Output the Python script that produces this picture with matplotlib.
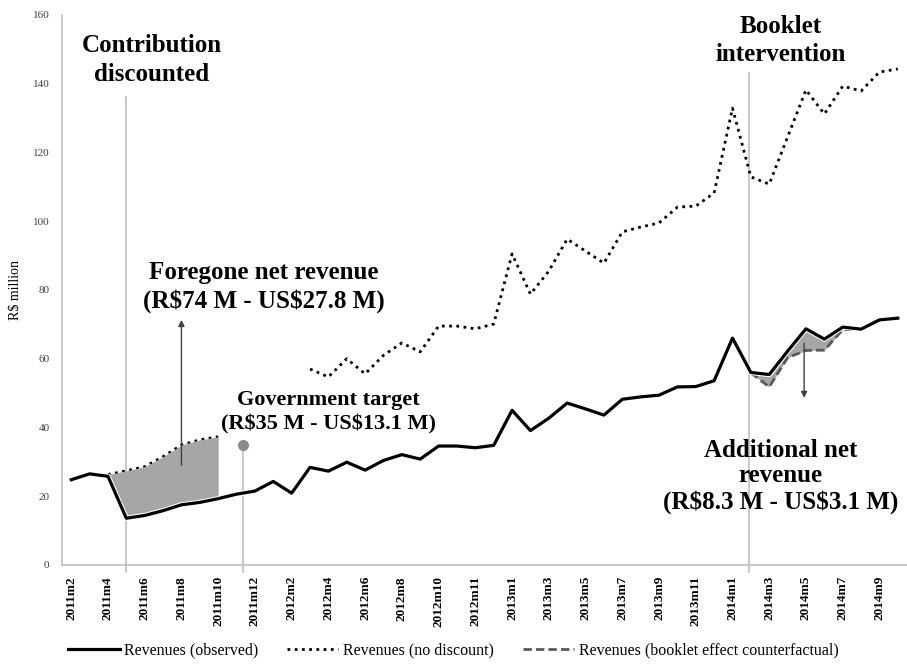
import numpy as np
import matplotlib
matplotlib.use("Agg")
from matplotlib import pyplot as plt
from matplotlib import patheffects as pe

plt.rcParams["font.family"] = ["Liberation Serif", "DejaVu Serif"]
plt.rcParams["text.parse_math"] = False

months = ["2011m2", "2011m3", "2011m4", "2011m5", "2011m6", "2011m7", "2011m8",
          "2011m9", "2011m10", "2011m11", "2011m12",
          "2012m1", "2012m2", "2012m3", "2012m4", "2012m5", "2012m6", "2012m7",
          "2012m8", "2012m9", "2012m10", "2012m11", "2012m11", "2012m12",
          "2013m1", "2013m2", "2013m3", "2013m4", "2013m5", "2013m6", "2013m7",
          "2013m8", "2013m9", "2013m10", "2013m11", "2013m12",
          "2014m1", "2014m2", "2014m3", "2014m4", "2014m5", "2014m6", "2014m7",
          "2014m8", "2014m9", "2014m10"]

# R$ million
observed = [24.8, 26.5, 25.8, 13.6, 14.4, 15.8, 17.5, 18.2, 19.3, 20.6, 21.5,
            24.3, 20.9, 28.4, 27.3, 29.9, 27.6, 30.4, 32.1, 30.8, 34.6, 34.6,
            34.1, 34.8, 45.0, 39.1, 42.7, 47.1, 45.4, 43.6, 48.2, 48.9, 49.4,
            51.8, 51.9, 53.6, 66.0, 56.0, 55.4, 62.2, 68.7, 65.7, 69.2, 68.6,
            71.3, 71.8]

nan = np.nan
no_discount = [nan, nan, 26.3, 27.4, 28.6, 31.5, 34.9, 36.4, 37.3, nan, nan,
               nan, nan, 57.0, 54.7, 60.0, 55.6, 61.0, 64.6, 62.0, 69.5, 69.5,
               68.7, 70.1, 90.5, 78.8, 85.5, 94.8, 91.3, 87.8, 96.9, 98.3, 99.5,
               104.1, 104.4, 108.2, 132.9, 112.9, 110.8, 124.5, 138.2, 131.2,
               139.3, 137.9, 143.4, 144.3]

booklet_cf = [nan] * 37 + [55.9, 51.8, 60.3, 62.4, 62.5, 68.4, 68.6, nan, nan]

discount_start = 2.98
gov_target_pos = 9.35
gov_target = 35
booklet_start = 36.9

x = np.arange(len(months))
obs = np.array(observed)
nod = np.array(no_discount)
cf = np.array(booklet_cf)

fig = plt.figure(figsize=(9.07, 6.69), dpi=100)
ax = fig.add_axes([0.0684, 0.1555, 0.9316, 0.8221])

light = "#bfbfbf"

# event markers
ax.plot([discount_start, discount_start], [-2, 136], color=light, lw=1.2,
        clip_on=False, zorder=1)
ax.plot([gov_target_pos, gov_target_pos], [-2, gov_target], color=light, lw=1.2,
        clip_on=False, zorder=1)
ax.plot([booklet_start, booklet_start], [-2, 143], color=light, lw=1.2,
        clip_on=False, zorder=1)
ax.plot([gov_target_pos], [gov_target], "o", color="#8c8c8c", ms=7, zorder=5)

# shaded gaps
lo = slice(2, 9)
ax.fill_between(x[lo], obs[lo], nod[lo], color="#a6a6a6", lw=0, zorder=3)
hi = slice(37, 44)
ax.fill_between(x[hi], cf[hi], obs[hi], color="#a6a6a6", lw=0, zorder=3)

ax.plot(x, nod, color="black", lw=2.0, ls=(0, (1, 1.6)), zorder=2,
        label="Revenues (no discount)")
ax.plot(x, cf, color="#595959", lw=2.0, ls=(0, (3, 1.5)), zorder=4,
        label="Revenues (booklet effect counterfactual)")
ax.plot(x, obs, color="black", lw=2.3, zorder=5, label="Revenues (observed)",
        path_effects=[pe.Stroke(linewidth=3.8, foreground="white"), pe.Normal()])

# arrows
arrow = dict(arrowstyle="-|>", color="#404040", lw=1.0, mutation_scale=9,
             shrinkA=0, shrinkB=0)
ax.annotate("", xy=(6.0, 71.3), xytext=(6.0, 29.0), arrowprops=arrow, zorder=6)
ax.annotate("", xy=(39.9, 48.6), xytext=(39.9, 64.5), arrowprops=arrow, zorder=6)

bold = dict(fontweight="bold", ha="center", va="center", linespacing=1.3)
ax.text(4.4, 146.9, "Contribution\ndiscounted", fontsize=18, **bold)
ax.text(10.5, 80.8, "Foregone net revenue\n(R$74 M - US$27.8 M)", fontsize=18, **bold)
ax.text(14.0, 44.5, "Government target\n(R$35 M - US$13.1 M)", fontsize=16, **bold)
ax.text(38.6, 152.5, "Booklet\nintervention", fontsize=18, **bold)
ax.text(38.6, 25.8, "Additional net\nrevenue\n(R$8.3 M - US$3.1 M)", fontsize=18,
        fontweight="bold", ha="center", va="center", linespacing=1.15)

ax.set_xlim(-0.5, len(months) - 0.5)
ax.set_ylim(0, 160)
ax.set_yticks(range(0, 161, 20))
ax.set_xticks(x[::2])
ax.set_xticklabels(months[::2], rotation=90, fontweight="bold", fontsize=9.5)
ax.tick_params(axis="x", length=0, pad=8)
ax.tick_params(axis="y", length=0, pad=9, labelsize=8, labelcolor="#404040")
ax.set_ylabel("R$ million", fontsize=10, labelpad=8)

for side in ["top", "right"]:
    ax.spines[side].set_visible(False)
for side in ["left", "bottom"]:
    ax.spines[side].set_color(light)
    ax.spines[side].set_linewidth(1.2)

handles, labels = ax.get_legend_handles_labels()
order = [2, 0, 1]
fig.legend([handles[i] for i in order], [labels[i] for i in order],
           loc="center", bbox_to_anchor=(0.5, 0.028), ncol=3, frameon=False,
           fontsize=11.5, handlelength=3.2, handletextpad=0.3, columnspacing=1.8)

fig.savefig("out.png", dpi=100)
